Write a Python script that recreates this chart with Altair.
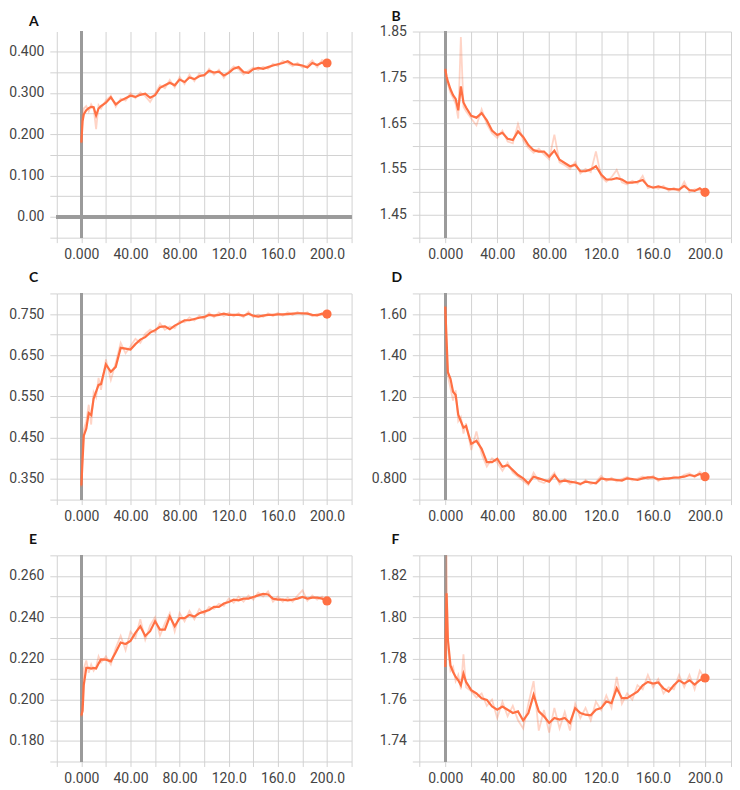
import altair as alt
import pandas as pd

steps = [0, 1, 2, 4, 6, 8, 10, 12, 14, 16, 20, 24, 28, 32, 36, 40, 44, 48, 52, 56,
         60, 64, 68, 72, 76, 80, 84, 88, 92, 96, 100, 104, 108, 112, 116, 120, 124,
         128, 132, 136, 140, 144, 148, 152, 156, 160, 164, 168, 172, 176, 180, 184,
         188, 192, 196, 200]

x_grid = [-20, 0, 20, 40, 60, 80, 100, 120, 140, 160, 180, 200, 220]

# Panel A
a_smooth = [0.180, 0.232, 0.248, 0.258, 0.263, 0.266, 0.265, 0.245, 0.262, 0.268,
            0.276, 0.289, 0.272, 0.281, 0.287, 0.293, 0.290, 0.295, 0.298, 0.288,
            0.294, 0.312, 0.318, 0.324, 0.318, 0.332, 0.326, 0.337, 0.333, 0.340,
            0.343, 0.353, 0.349, 0.351, 0.342, 0.348, 0.358, 0.362, 0.350, 0.348,
            0.357, 0.360, 0.358, 0.362, 0.366, 0.369, 0.372, 0.376, 0.369, 0.368,
            0.366, 0.361, 0.372, 0.367, 0.373, 0.372]
a_raw = [0.178, 0.245, 0.262, 0.268, 0.255, 0.272, 0.262, 0.212, 0.270, 0.262,
         0.282, 0.293, 0.266, 0.286, 0.281, 0.299, 0.287, 0.301, 0.292, 0.278,
         0.298, 0.318, 0.311, 0.331, 0.313, 0.338, 0.321, 0.344, 0.328, 0.346,
         0.339, 0.358, 0.344, 0.356, 0.336, 0.352, 0.364, 0.357, 0.344, 0.353,
         0.361, 0.355, 0.363, 0.358, 0.370, 0.365, 0.377, 0.372, 0.364, 0.372,
         0.361, 0.366, 0.378, 0.362, 0.379, 0.371]
a_ygrid = [-0.05, 0.0, 0.05, 0.10, 0.15, 0.20, 0.25, 0.30, 0.35, 0.40]

# Panel B
b_smooth = [1.768, 1.752, 1.741, 1.724, 1.711, 1.703, 1.678, 1.730, 1.695, 1.684,
            1.666, 1.662, 1.672, 1.656, 1.634, 1.624, 1.629, 1.616, 1.613, 1.632,
            1.620, 1.602, 1.591, 1.588, 1.588, 1.577, 1.590, 1.570, 1.563, 1.556,
            1.559, 1.545, 1.545, 1.549, 1.556, 1.538, 1.527, 1.527, 1.530, 1.527,
            1.520, 1.520, 1.522, 1.526, 1.513, 1.509, 1.512, 1.509, 1.506, 1.506,
            1.505, 1.513, 1.504, 1.502, 1.508, 1.499]
b_raw = [1.770, 1.745, 1.735, 1.716, 1.705, 1.692, 1.660, 1.838, 1.686, 1.676,
         1.660, 1.645, 1.680, 1.648, 1.628, 1.618, 1.634, 1.610, 1.606, 1.648,
         1.612, 1.596, 1.585, 1.594, 1.582, 1.571, 1.625, 1.564, 1.558, 1.550,
         1.565, 1.540, 1.550, 1.543, 1.588, 1.533, 1.522, 1.532, 1.548, 1.521,
         1.516, 1.524, 1.518, 1.535, 1.508, 1.512, 1.507, 1.513, 1.502, 1.509,
         1.501, 1.522, 1.499, 1.506, 1.503, 1.497]
b_ygrid = [1.40, 1.45, 1.50, 1.55, 1.60, 1.65, 1.70, 1.75, 1.80, 1.85]

# Panel C
c_smooth = [0.334, 0.397, 0.455, 0.472, 0.510, 0.505, 0.545, 0.562, 0.578, 0.580,
            0.628, 0.610, 0.622, 0.668, 0.666, 0.664, 0.677, 0.688, 0.694, 0.705,
            0.711, 0.719, 0.720, 0.713, 0.722, 0.728, 0.735, 0.735, 0.738, 0.741,
            0.743, 0.748, 0.746, 0.748, 0.751, 0.748, 0.748, 0.748, 0.746, 0.751,
            0.746, 0.744, 0.746, 0.748, 0.748, 0.749, 0.749, 0.750, 0.751, 0.752,
            0.752, 0.751, 0.748, 0.747, 0.751, 0.750]
c_raw = [0.330, 0.420, 0.470, 0.490, 0.530, 0.482, 0.560, 0.548, 0.595, 0.566,
         0.640, 0.590, 0.632, 0.680, 0.655, 0.672, 0.690, 0.680, 0.702, 0.712,
         0.705, 0.728, 0.712, 0.720, 0.716, 0.733, 0.730, 0.742, 0.734, 0.746,
         0.738, 0.753, 0.742, 0.754, 0.745, 0.753, 0.744, 0.752, 0.742, 0.756,
         0.742, 0.749, 0.743, 0.752, 0.745, 0.753, 0.746, 0.754, 0.748, 0.755,
         0.749, 0.754, 0.745, 0.750, 0.748, 0.751]
c_ygrid = [0.30, 0.35, 0.40, 0.45, 0.50, 0.55, 0.60, 0.65, 0.70, 0.75, 0.80]

# Panel D
d_smooth = [1.635, 1.476, 1.318, 1.286, 1.223, 1.207, 1.112, 1.080, 1.049, 1.057,
            0.970, 0.985, 0.946, 0.882, 0.882, 0.898, 0.859, 0.867, 0.843, 0.819,
            0.803, 0.779, 0.811, 0.803, 0.795, 0.787, 0.819, 0.787, 0.792, 0.787,
            0.783, 0.776, 0.787, 0.783, 0.779, 0.803, 0.798, 0.798, 0.795, 0.792,
            0.803, 0.800, 0.795, 0.803, 0.808, 0.808, 0.798, 0.800, 0.803, 0.806,
            0.808, 0.811, 0.819, 0.814, 0.824, 0.811]
d_raw = [1.640, 1.420, 1.300, 1.240, 1.180, 1.230, 1.080, 1.100, 1.020, 1.070,
         0.940, 1.030, 0.920, 0.860, 0.900, 0.880, 0.840, 0.880, 0.830, 0.810,
         0.790, 0.770, 0.830, 0.790, 0.780, 0.800, 0.830, 0.775, 0.800, 0.775,
         0.790, 0.770, 0.795, 0.775, 0.785, 0.815, 0.790, 0.805, 0.788, 0.800,
         0.810, 0.792, 0.802, 0.812, 0.800, 0.815, 0.790, 0.808, 0.798, 0.812,
         0.802, 0.820, 0.828, 0.808, 0.835, 0.815]
d_ygrid = [0.70, 0.80, 0.90, 1.00, 1.10, 1.20, 1.30, 1.40, 1.50, 1.60, 1.70]

# Panel E
e_smooth = [0.1923, 0.1946, 0.2072, 0.2154, 0.2154, 0.2151, 0.2154, 0.2151, 0.2175, 0.2195,
            0.2194, 0.2186, 0.2230, 0.2277, 0.2270, 0.2285, 0.2324, 0.2356, 0.2309, 0.2332,
            0.2380, 0.2340, 0.2340, 0.2403, 0.2356, 0.2395, 0.2395, 0.2411, 0.2403, 0.2419,
            0.2427, 0.2435, 0.2450, 0.2450, 0.2466, 0.2474, 0.2485, 0.2482, 0.2490, 0.2490,
            0.2498, 0.2506, 0.2513, 0.2510, 0.2490, 0.2485, 0.2485, 0.2482, 0.2485, 0.2490,
            0.2498, 0.2490, 0.2495, 0.2495, 0.2490, 0.2479]
e_raw = [0.1915, 0.2000, 0.2150, 0.2190, 0.2130, 0.2170, 0.2140, 0.2160, 0.2210, 0.2180,
         0.2210, 0.2170, 0.2250, 0.2310, 0.2240, 0.2330, 0.2300, 0.2390, 0.2290, 0.2360,
         0.2400, 0.2310, 0.2370, 0.2420, 0.2330, 0.2420, 0.2380, 0.2430, 0.2390, 0.2440,
         0.2415, 0.2450, 0.2440, 0.2465, 0.2455, 0.2490, 0.2470, 0.2500, 0.2475, 0.2505,
         0.2485, 0.2520, 0.2500, 0.2525, 0.2475, 0.2500, 0.2475, 0.2495, 0.2475, 0.2505,
         0.2530, 0.2480, 0.2505, 0.2485, 0.2500, 0.2475]
e_ygrid = [0.17, 0.18, 0.19, 0.20, 0.21, 0.22, 0.23, 0.24, 0.25, 0.26, 0.27]

# Panel F
f_smooth = [1.7758, 1.8116, 1.7893, 1.7766, 1.7734, 1.7710, 1.7694, 1.7670, 1.7726, 1.7686,
            1.7646, 1.7630, 1.7607, 1.7599, 1.7567, 1.7551, 1.7567, 1.7551, 1.7535, 1.7543,
            1.7499, 1.7535, 1.7623, 1.7543, 1.7519, 1.7487, 1.7511, 1.7503, 1.7511, 1.7487,
            1.7559, 1.7535, 1.7527, 1.7524, 1.7551, 1.7559, 1.7591, 1.7583, 1.7655, 1.7607,
            1.7607, 1.7623, 1.7639, 1.7670, 1.7686, 1.7678, 1.7683, 1.7655, 1.7639, 1.7670,
            1.7694, 1.7678, 1.7694, 1.7673, 1.7694, 1.7705]
f_raw = [1.7760, 1.8300, 1.7850, 1.7740, 1.7760, 1.7690, 1.7720, 1.7650, 1.7820, 1.7660,
         1.7640, 1.7610, 1.7630, 1.7570, 1.7600, 1.7510, 1.7590, 1.7520, 1.7570, 1.7500,
         1.7460, 1.7580, 1.7690, 1.7450, 1.7550, 1.7440, 1.7560, 1.7460, 1.7540, 1.7450,
         1.7580, 1.7510, 1.7560, 1.7500, 1.7590, 1.7550, 1.7620, 1.7560, 1.7710, 1.7580,
         1.7630, 1.7600, 1.7670, 1.7650, 1.7720, 1.7660, 1.7700, 1.7630, 1.7660, 1.7650,
         1.7720, 1.7660, 1.7720, 1.7650, 1.7740, 1.7700]
f_ygrid = [1.73, 1.74, 1.75, 1.76, 1.77, 1.78, 1.79, 1.80, 1.81, 1.82, 1.83]

ORANGE = "#ff7043"
GRID = "#d2d2d2"
ZERO = "#9b9b9b"


def panel(letter, smooth, raw, ydom, ygrid, mult, parity, w, h, zero_y=False):
    df = pd.DataFrame({"step": steps, "smoothed": smooth, "raw": raw})
    xscale = alt.Scale(domain=[-20, 220], nice=False, zero=False)
    yscale = alt.Scale(domain=ydom, nice=False, zero=False)
    xaxis = alt.Axis(
        values=x_grid,
        labelExpr="datum.value == 0 ? '0.000' : (datum.value % 40 == 0 ? format(datum.value, '.4r') : '')",
        title=None, grid=True, domain=False, tickSize=5, labelPadding=5,
        labelFlush=False, labelOverlap=False,
    )
    yaxis = alt.Axis(
        values=ygrid,
        labelExpr=(f"abs(datum.value) < 1e-9 ? '0.00' : "
                   f"(abs(round(datum.value * {mult})) % 2 == {parity} ? format(datum.value, '.3r') : '')"),
        title=None, grid=True, domain=False, tickSize=7, labelPadding=6,
        labelFlush=False, labelOverlap=False,
    )
    base = alt.Chart(df)
    layers = [
        base.mark_rule(color=ZERO, strokeWidth=2.5).encode(
            x=alt.XDatum(0, type="quantitative", scale=xscale, axis=xaxis)
        )
    ]
    if zero_y:
        layers.append(
            base.mark_rule(color=ZERO, strokeWidth=2.5).encode(
                y=alt.YDatum(0, type="quantitative", scale=yscale, axis=yaxis)
            )
        )
    layers += [
        base.mark_line(color=ORANGE, opacity=0.3, strokeWidth=1.8, clip=True).encode(
            x=alt.X("step:Q", scale=xscale, axis=xaxis),
            y=alt.Y("raw:Q", scale=yscale, axis=yaxis),
        ),
        base.mark_line(color=ORANGE, strokeWidth=2.2, clip=True).encode(
            x=alt.X("step:Q", scale=xscale, axis=xaxis),
            y=alt.Y("smoothed:Q", scale=yscale, axis=yaxis),
        ),
        base.transform_filter("datum.step == 200").mark_circle(
            color=ORANGE, opacity=1, size=85
        ).encode(
            x=alt.X("step:Q", scale=xscale, axis=xaxis),
            y=alt.Y("smoothed:Q", scale=yscale, axis=yaxis),
        ),
    ]
    return alt.layer(*layers).properties(
        width=w, height=h,
        title=alt.TitleParams(
            letter, anchor="start", frame="group", dx=-28, offset=1,
            fontSize=14, fontWeight="bold", font="Lato", color="#111111",
        ),
    )


LW, RW, H = 296, 313, 207

A = panel("A", a_smooth, a_raw, [-0.05, 0.448], a_ygrid, 20, 0, LW, H, zero_y=True)
B = panel("B", b_smooth, b_raw, [1.40, 1.85], b_ygrid, 20, 1, RW, H)
C = panel("C", c_smooth, c_raw, [0.30, 0.80], c_ygrid, 20, 1, LW, H)
D = panel("D", d_smooth, d_raw, [0.70, 1.70], d_ygrid, 10, 0, RW, H)
E = panel("E", e_smooth, e_raw, [0.17, 0.27], e_ygrid, 100, 0, LW, H)
F = panel("F", f_smooth, f_raw, [1.73, 1.83], f_ygrid, 100, 0, RW, H)

chart = alt.vconcat(
    alt.hconcat(A, B, spacing=68, bounds="flush"),
    alt.hconcat(C, D, spacing=68, bounds="flush"),
    alt.hconcat(E, F, spacing=68, bounds="flush"),
    spacing=10,
).properties(
    padding={"left": 0, "top": 0, "right": 0, "bottom": 0}
).configure_view(
    stroke=None
).configure_axis(
    gridColor=GRID, gridWidth=1, tickColor=GRID, tickWidth=1,
    labelColor="#444444", labelFont="Roboto", labelFontSize=14,
)

chart.save("out.html", embed_options={"renderer": "svg", "actions": False})
